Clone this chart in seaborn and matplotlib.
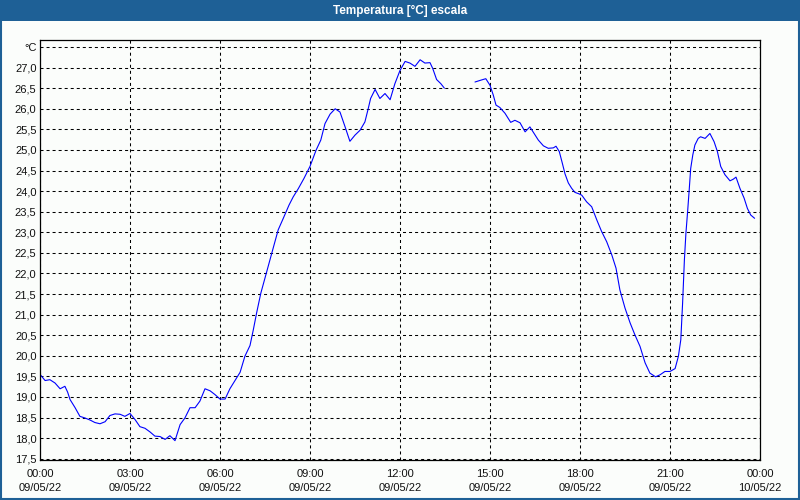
import numpy as np
import pandas as pd
import matplotlib
matplotlib.use("Agg")
import matplotlib.pyplot as plt
import seaborn as sns
from matplotlib.patches import Rectangle
from matplotlib.ticker import MultipleLocator

# ---- data (hours after 09/05/22 00:00, temperature in °C) ----
hours_a = [0.0, 0.17, 0.33, 0.5, 0.67, 0.83, 0.92, 1.0, 1.17, 1.33, 1.5, 1.67, 1.83, 2.0,
           2.17, 2.33, 2.5, 2.67, 2.83, 3.0, 3.17, 3.33, 3.5, 3.67, 3.83, 4.0, 4.17, 4.33,
           4.5, 4.67, 4.83, 5.0, 5.17, 5.33, 5.5, 5.67, 5.83, 6.0, 6.17, 6.33, 6.5, 6.67,
           6.83, 7.0, 7.11, 7.22, 7.36, 7.56, 7.74, 7.94, 8.11, 8.3, 8.44, 8.61, 8.8, 9.0,
           9.2, 9.36, 9.5, 9.67, 9.84, 10.0, 10.17, 10.33, 10.5, 10.67, 10.83, 10.94, 11.02,
           11.17, 11.33, 11.5, 11.67, 11.83, 12.0, 12.17, 12.33, 12.5, 12.67, 12.83, 13.0,
           13.09, 13.22, 13.36, 13.48]
temp_a = [19.55, 19.40, 19.42, 19.34, 19.20, 19.26, 19.12, 18.94, 18.74, 18.53, 18.49, 18.44,
          18.38, 18.35, 18.40, 18.55, 18.59, 18.58, 18.53, 18.60, 18.45, 18.28, 18.24, 18.15,
          18.05, 18.04, 17.97, 18.06, 17.94, 18.33, 18.49, 18.74, 18.74, 18.90, 19.20, 19.15,
          19.06, 18.95, 18.95, 19.20, 19.40, 19.60, 19.99, 20.25, 20.63, 21.04, 21.52, 22.05,
          22.53, 23.06, 23.34, 23.66, 23.86, 24.06, 24.31, 24.60, 24.99, 25.24, 25.64, 25.87,
          26.00, 25.92, 25.56, 25.21, 25.36, 25.48, 25.68, 26.00, 26.25, 26.47, 26.25, 26.37,
          26.22, 26.61, 26.93, 27.15, 27.11, 27.03, 27.19, 27.11, 27.12, 26.98, 26.71, 26.61,
          26.50]

hours_b = [14.5, 14.72, 14.86, 15.0, 15.11, 15.2, 15.33, 15.5, 15.69, 15.83, 16.0, 16.17,
           16.33, 16.47, 16.61, 16.78, 16.94, 17.11, 17.2, 17.31, 17.41, 17.5, 17.61, 17.72,
           17.83, 17.98, 18.06, 18.22, 18.39, 18.56, 18.72, 18.89, 19.06, 19.2, 19.33, 19.5,
           19.67, 19.83, 20.0, 20.17, 20.33, 20.52, 20.67, 20.83, 21.0, 21.17, 21.28, 21.36,
           21.42, 21.48, 21.53, 21.59, 21.64, 21.69, 21.76, 21.83, 21.94, 22.02, 22.17, 22.33,
           22.47, 22.58, 22.69, 22.83, 23.0, 23.11, 23.2, 23.33, 23.47, 23.58, 23.69, 23.82]
temp_b = [26.65, 26.70, 26.73, 26.57, 26.33, 26.09, 26.03, 25.89, 25.67, 25.72, 25.66, 25.44,
          25.56, 25.40, 25.24, 25.10, 25.04, 25.05, 25.09, 24.96, 24.68, 24.42, 24.20, 24.07,
          23.97, 23.93, 23.90, 23.74, 23.62, 23.30, 23.02, 22.77, 22.45, 22.13, 21.60, 21.16,
          20.80, 20.51, 20.23, 19.83, 19.58, 19.49, 19.54, 19.62, 19.62, 19.69, 19.99, 20.39,
          21.28, 22.33, 22.97, 23.53, 24.03, 24.55, 24.88, 25.12, 25.28, 25.32, 25.28, 25.40,
          25.20, 24.96, 24.60, 24.40, 24.25, 24.29, 24.34, 24.07, 23.83, 23.58, 23.42, 23.34]

x_tick_hours = [0, 3, 6, 9, 12, 15, 18, 21, 24]
x_tick_labels = ["00:00\n09/05/22", "03:00\n09/05/22", "06:00\n09/05/22", "09:00\n09/05/22",
                 "12:00\n09/05/22", "15:00\n09/05/22", "18:00\n09/05/22", "21:00\n09/05/22",
                 "00:00\n10/05/22"]
y_tick_values = [17.5, 18.0, 18.5, 19.0, 19.5, 20.0, 20.5, 21.0, 21.5, 22.0, 22.5,
                 23.0, 23.5, 24.0, 24.5, 25.0, 25.5, 26.0, 26.5, 27.0, 27.5]
y_tick_labels = ["17,5", "18,0", "18,5", "19,0", "19,5", "20,0", "20,5", "21,0", "21,5",
                 "22,0", "22,5", "23,0", "23,5", "24,0", "24,5", "25,0", "25,5", "26,0",
                 "26,5", "27,0", "°C"]
title = "Temperatura [°C] escala"

# ---- style ----
sns.set_style("white")
plt.rcParams["font.family"] = ["Liberation Sans", "DejaVu Sans"]

BG = "#fbfdfb"
BAR = "#1e6096"

df = pd.DataFrame({
    "hour": hours_a + hours_b,
    "temp": temp_a + temp_b,
    "seg": ["a"] * len(hours_a) + ["b"] * len(hours_b),
})

fig = plt.figure(figsize=(8, 5), dpi=100, facecolor=BG)
ax = fig.add_axes([0.05, 0.08, 0.90, 0.84])
ax.set_facecolor(BG)

sns.lineplot(data=df, x="hour", y="temp", units="seg", estimator=None, sort=False,
             color="#0000ff", linewidth=0.8, ax=ax, legend=False)

ax.set_xlim(0, 24)
ax.set_ylim(17.47, 27.67)
ax.set_xticks(x_tick_hours, x_tick_labels)
ax.xaxis.set_minor_locator(MultipleLocator(1))
ax.set_yticks(y_tick_values, y_tick_labels)
ax.set_xlabel("")
ax.set_ylabel("")

ax.grid(True, which="major", color="black", linestyle=(0, (2.9, 2.9)), linewidth=0.75)
ax.tick_params(axis="x", which="both", direction="out", length=2.4, width=0.75,
               color="black", pad=4, labelsize=8, labelcolor="#111111")
ax.tick_params(axis="y", which="both", length=0, pad=2.5, labelsize=8, labelcolor="#111111")
for lab in ax.get_xticklabels():
    lab.set_linespacing(1.5)
for s in ax.spines.values():
    s.set_visible(True)
    s.set_color("black")
    s.set_linewidth(0.9)

# title bar and frame
fig.add_artist(Rectangle((0, 1 - 20.5 / 500), 1, 20.5 / 500, transform=fig.transFigure,
                         facecolor=BAR, edgecolor="none", zorder=5))
fig.add_artist(Rectangle((0.001, 0.002), 0.998, 0.997, transform=fig.transFigure,
                         fill=False, edgecolor=BAR, linewidth=1.5, zorder=6))
fig.text(0.5, 1 - 10.5 / 500, title, color="white", fontsize=8.5, fontweight="bold",
         ha="center", va="center", zorder=7)

fig.savefig("out.png", dpi=100, facecolor=BG)
